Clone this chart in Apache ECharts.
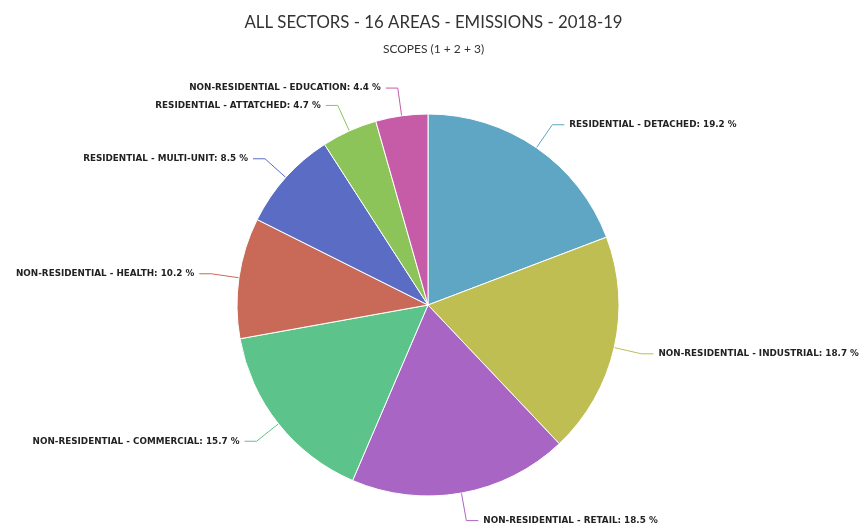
<!DOCTYPE html>
<html><head><meta charset="utf-8">
<script src="https://cdn.jsdelivr.net/npm/echarts@6/dist/echarts.min.js"></script>
<style>html,body{margin:0;padding:0;background:#fff}#c{width:867px;height:531px}</style>
</head><body><div id="c"></div>
<script>
const categories = [
  'RESIDENTIAL - DETACHED',
  'NON-RESIDENTIAL - INDUSTRIAL',
  'NON-RESIDENTIAL - RETAIL',
  'NON-RESIDENTIAL - COMMERCIAL',
  'NON-RESIDENTIAL - HEALTH',
  'RESIDENTIAL - MULTI-UNIT',
  'RESIDENTIAL - ATTATCHED',
  'NON-RESIDENTIAL - EDUCATION'
];
const values = [19.2, 18.7, 18.5, 15.7, 10.2, 8.5, 4.7, 4.4];
const colors = ['#5ea6c4', '#bfbe52', '#a965c4', '#5cc48a', '#c96a58', '#5a6cc4', '#8cc45a', '#c65ca8'];

const chart = echarts.init(document.getElementById('c'));
chart.setOption({
  animation: false,
  title: {
    text: 'ALL SECTORS - 16 AREAS - EMISSIONS - 2018-19',
    subtext: 'SCOPES (1 + 2 + 3)',
    left: 'center', top: 9,
    itemGap: 12,
    textStyle: {fontFamily: 'Lato', fontSize: 16.8, fontWeight: 'normal', color: '#333'},
    subtextStyle: {fontFamily: 'Lato', fontSize: 12, color: '#333'}
  },
  series: [{
    type: 'pie',
    center: [428, 305],
    radius: 191,
    startAngle: 90,
    clockwise: true,
    data: categories.map((c, i) => ({name: c, value: values[i], itemStyle: {color: colors[i]}})),
    itemStyle: {borderColor: '#fff', borderWidth: 1},
    label: {
      formatter: p => p.name + ': ' + p.value + ' %',
      overflow: 'none',
      fontFamily: 'DejaVu Sans', fontWeight: 'bold', fontSize: 8.8, color: '#222'
    },
    labelLine: {length: 28, length2: 12, lineStyle: {width: 1}}
  }]
});
</script></body></html>
